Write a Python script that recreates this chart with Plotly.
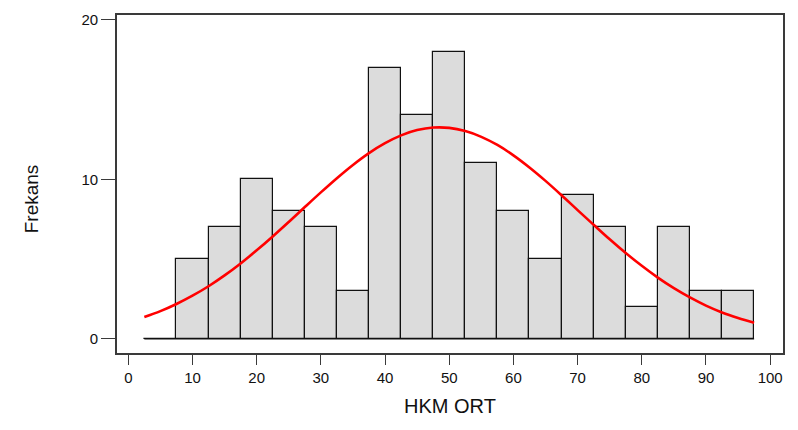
import plotly.graph_objects as go

# Histogram of HKM ORT: bin centres (width 5) and counts
bin_centers = [5, 10, 15, 20, 25, 30, 35, 40, 45, 50, 55, 60, 65, 70, 75, 80, 85, 90, 95]
counts = [0, 5, 7, 10, 8, 7, 3, 17, 14, 18, 11, 8, 5, 9, 7, 2, 7, 3, 3]
bin_width = 5

# Fitted normal curve, sampled along the range of the bins
curve_x = [2.5, 5, 7.5, 10, 12.5, 15, 17.5, 20, 22.5, 25, 27.5, 30, 32.5, 35, 37.5,
           40, 42.5, 45, 47.5, 50, 52.5, 55, 57.5, 60, 62.5, 65, 67.5, 70, 72.5, 75,
           77.5, 80, 82.5, 85, 87.5, 90, 92.5, 95, 97.5]
curve_y = [1.37, 1.74, 2.19, 2.71, 3.30, 3.98, 4.73, 5.55, 6.42, 7.33, 8.26, 9.18, 10.07,
           10.90, 11.64, 12.26, 12.75, 13.08, 13.24, 13.22, 13.02, 12.66, 12.15, 11.50,
           10.74, 9.90, 9.00, 8.07, 7.15, 6.24, 5.38, 4.58, 3.84, 3.18, 2.60, 2.09,
           1.66, 1.31, 1.01]

x_ticks = [0, 10, 20, 30, 40, 50, 60, 70, 80, 90, 100]
y_ticks = [0, 10, 20]

FONT = "Liberation Sans, Arial, sans-serif"
FRAME = "#3a3a3a"

fig = go.Figure()

fig.add_trace(go.Bar(
    x=bin_centers,
    y=counts,
    width=[bin_width] * len(bin_centers),
    marker=dict(color="#dcdcdc", line=dict(color="#111111", width=1.2)),
    hoverinfo="x+y",
    showlegend=False,
))

# baseline along the bottom of the bins
edges = [bin_centers[0] - bin_width / 2, bin_centers[-1] + bin_width / 2]
fig.add_trace(go.Scatter(
    x=edges, y=[0, 0], mode="lines",
    line=dict(color="#111111", width=1.2),
    hoverinfo="skip", showlegend=False,
))

fig.add_trace(go.Scatter(
    x=curve_x, y=curve_y, mode="lines",
    line=dict(color="#ff0000", width=2.6, shape="spline"),
    showlegend=False,
))

fig.update_layout(
    width=798, height=430,
    margin=dict(l=117, r=15, t=15, b=77),
    paper_bgcolor="white",
    plot_bgcolor="white",
    bargap=0,
    font=dict(family=FONT, size=15, color="#111111"),
    showlegend=False,
    annotations=[dict(
        text="Frekans", textangle=-90,
        xref="paper", yref="paper", x=-0.128, y=0.457,
        xanchor="center", yanchor="middle", showarrow=False,
        font=dict(family=FONT, size=19, color="#111111"),
    )],
)

fig.update_xaxes(
    range=[-1.76, 102.0],
    tickmode="array", tickvals=x_ticks,
    ticks="outside", ticklen=10, tickwidth=1.2, tickcolor=FRAME,
    showline=True, linecolor=FRAME, linewidth=1.6, mirror=True,
    showgrid=False, zeroline=False,
    tickfont=dict(family=FONT, size=15),
    title=dict(text="HKM ORT", font=dict(family=FONT, size=20), standoff=14),
)

fig.update_yaxes(
    range=[-0.88, 20.29],
    tickmode="array", tickvals=y_ticks,
    ticks="outside", ticklen=14, tickwidth=1.2, tickcolor=FRAME,
    showline=True, linecolor=FRAME, linewidth=1.6, mirror=True,
    showgrid=False, zeroline=False,
    tickfont=dict(family=FONT, size=15),
)

fig.write_html("out.html")
